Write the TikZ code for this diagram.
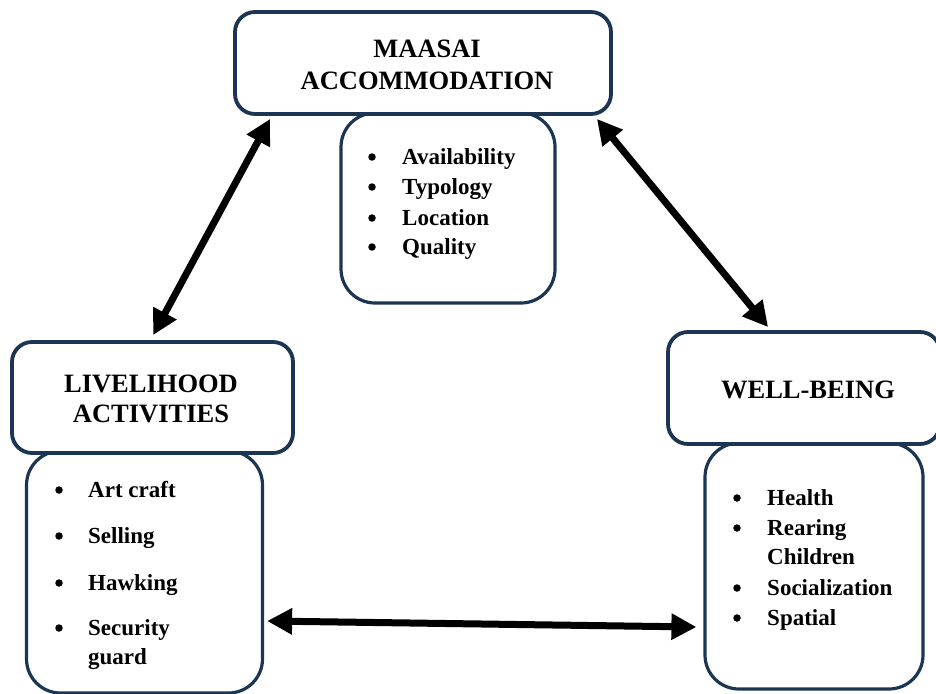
\documentclass[tikz,border=0pt]{standalone}
\usepackage{fontspec}
\setmainfont{Liberation Serif}[BoldFont={Liberation Serif Bold}]
\newfontfamily\tnr{Liberation Serif}[BoldFont={Liberation Serif Bold}]
\usetikzlibrary{arrows.meta}
\definecolor{boxline}{HTML}{1C3553}
\tikzset{
  titlebox/.style={draw=boxline, line width=3.8pt, rounded corners=20pt, fill=white, inner sep=0pt},
  subbox/.style={draw=boxline, line width=3.2pt, rounded corners=34pt, fill=white, inner sep=0pt},
  ttl/.style={font=\tnr\fontsize{26.5}{30}\selectfont\bfseries, anchor=base, inner sep=0pt},
  itm/.style={font=\tnr\fontsize{23}{27}\selectfont\bfseries, anchor=base west, inner sep=0pt},
  bul/.style={circle, fill=black, inner sep=0pt, minimum size=7.5pt},
  biarrow/.style={line width=7pt, {Triangle[length=25pt,width=25pt]}-{Triangle[length=25pt,width=25pt]}}
}
\begin{document}
\begin{tikzpicture}[x=1pt,y=-1pt]
\useasboundingbox (0,0) rectangle (936,693);
% sub-boxes first
\node[subbox, minimum width=214pt, minimum height=190pt] (accsub) at (448,208) {};
\node[subbox, minimum width=236pt, minimum height=242pt] (livesub) at (144.5,572) {};
\node[subbox, minimum width=218pt, minimum height=246pt] (wellsub) at (814,566) {};
% title boxes
\node[titlebox, minimum width=376pt, minimum height=102pt] (acc) at (423,63) {};
\node[titlebox, minimum width=281pt, minimum height=111pt] (live) at (152.5,397.5) {};
\node[titlebox, minimum width=272pt, minimum height=112pt] (well) at (804,388) {};
% titles
\node[ttl] (acc1) at (427,58) {MAASAI};
\node[ttl] (acc2) at (427,89) {ACCOMMODATION};
\node[ttl] (live1) at (151,392) {LIVELIHOOD};
\node[ttl] (live2) at (151,422) {ACTIVITIES};
\node[ttl] (well1) at (808,398) {WELL-BEING};
% accommodation items
\node[bul] (ab1) at (372,157) {};
\node[itm] (a1) at (402,164) {Availability};
\node[bul] (ab2) at (372,187) {};
\node[itm] (a2) at (402,194) {Typology};
\node[bul] (ab3) at (372,218) {};
\node[itm] (a3) at (402,225) {Location};
\node[bul] (ab4) at (372,247) {};
\node[itm] (a4) at (402,254) {Quality};
% livelihood items
\node[bul] (lb1) at (59,490) {};
\node[itm] (l1) at (88,497) {Art craft};
\node[bul] (lb2) at (59,536) {};
\node[itm] (l2) at (88,543) {Selling};
\node[bul] (lb3) at (59,583) {};
\node[itm] (l3) at (88,590) {Hawking};
\node[bul] (lb4) at (59,628) {};
\node[itm] (l4) at (88,635) {Security};
\node[itm] (l5) at (88,664) {guard};
% well-being items
\node[bul] (wb1) at (737,498) {};
\node[itm] (w1) at (767,505) {Health};
\node[bul] (wb2) at (737,528) {};
\node[itm] (w2) at (767,535) {Rearing};
\node[itm] (w3) at (767,564) {Children};
\node[bul] (wb4) at (737,588) {};
\node[itm] (w4) at (767,595) {Socialization};
\node[bul] (wb5) at (737,618) {};
\node[itm] (w5) at (767,625) {Spatial};
% connectors
\draw[biarrow] ([xshift=37pt,yshift=-3pt]acc.south west) -- ([xshift=143pt,yshift=5pt]live.north west);
\draw[biarrow] ([xshift=-16pt,yshift=-3pt]acc.south east) -- ([xshift=102pt,yshift=3pt]well.north west);
\draw[biarrow] ([xshift=3pt,yshift=-49pt]livesub.east) -- ([xshift=-7pt,yshift=-61pt]wellsub.west);
\end{tikzpicture}
\end{document}
